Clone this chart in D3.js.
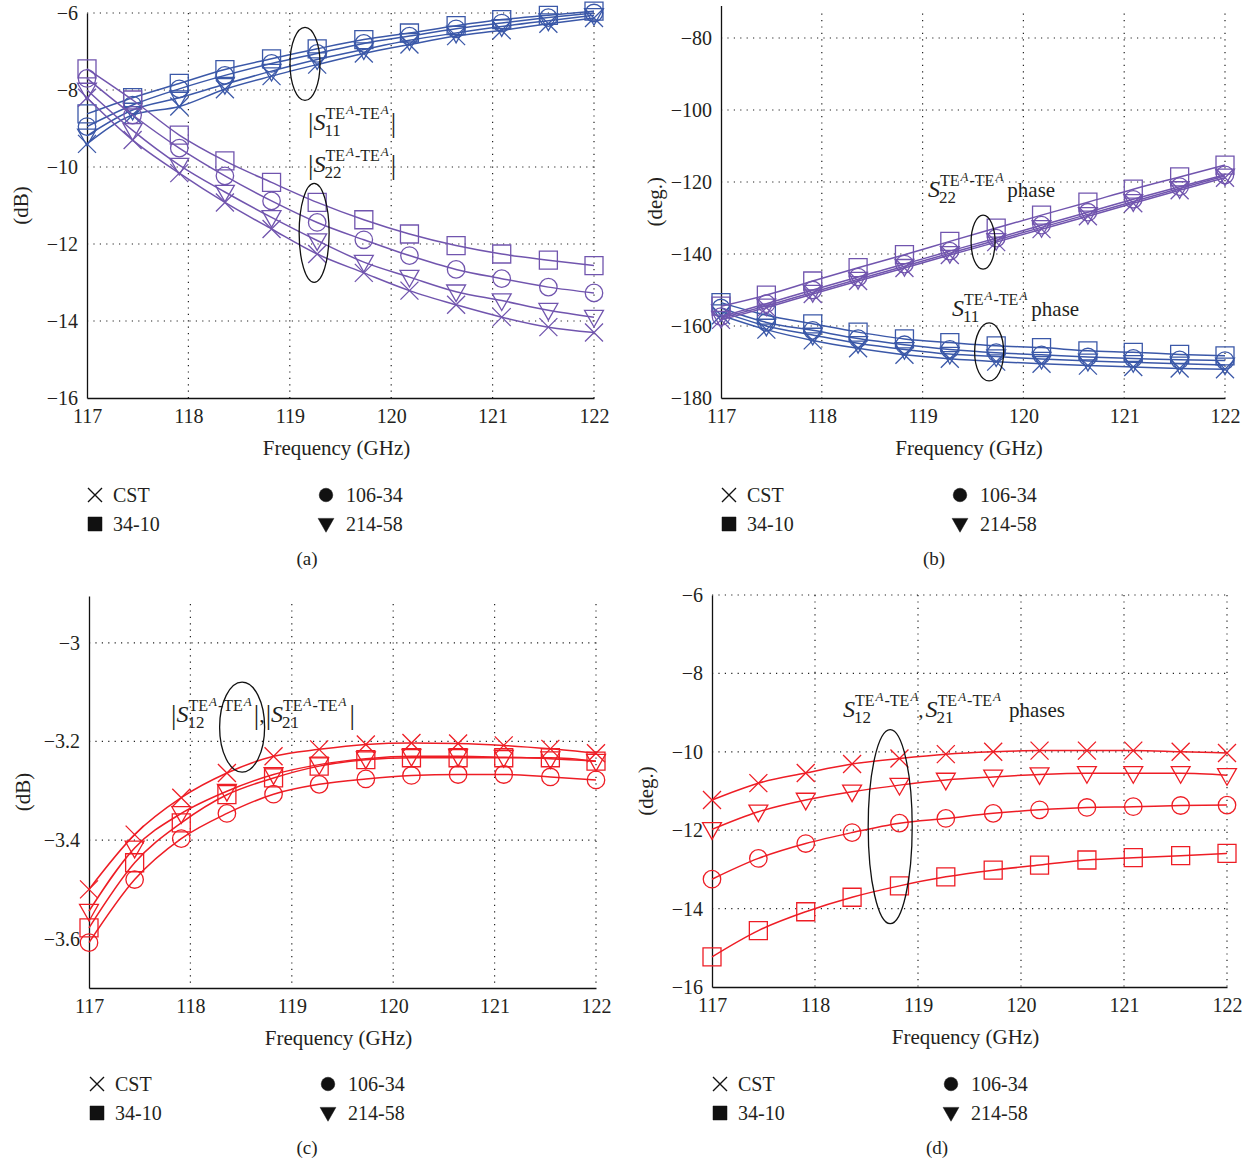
<!DOCTYPE html>
<html>
<head>
<meta charset="utf-8">
<script src="https://cdn.jsdelivr.net/npm/d3@7"></script>
<style>
  body { margin: 0; background: #fff; }
  svg { display: block; font-family: "Liberation Serif", "DejaVu Serif", serif; fill: #231f20; }
</style>
</head>
<body>
<svg id="chart" width="1255" height="1164"></svg>
<script>
/*global d3*/
"use strict";

// frequency points where markers sit (GHz)
var freq = [117, 117.45, 117.91, 118.36, 118.82, 119.27, 119.73, 120.18, 120.64, 121.09, 121.55, 122];
var xTicks = [117, 118, 119, 120, 121, 122];

// (a) |S11| and |S22| in dB
var s11magCST   = [-9.4, -8.65, -8.43, -7.98, -7.64, -7.34, -7.05, -6.82, -6.6, -6.45, -6.28, -6.13];
var s11mag3410  = [-8.62, -8.2, -7.83, -7.47, -7.19, -6.93, -6.69, -6.52, -6.33, -6.17, -6.06, -5.95];
var s11mag10634 = [-8.95, -8.39, -7.97, -7.62, -7.31, -7.05, -6.79, -6.6, -6.41, -6.26, -6.12, -6.0];
var s11mag21458 = [-9.19, -8.52, -8.2, -7.85, -7.51, -7.21, -6.95, -6.71, -6.52, -6.35, -6.2, -6.06];
var s22magCST   = [-8.2, -9.3, -10.16, -10.92, -11.61, -12.26, -12.75, -13.21, -13.58, -13.9, -14.16, -14.3];
var s22mag3410  = [-7.45, -8.26, -9.17, -9.84, -10.4, -10.92, -11.37, -11.74, -12.04, -12.26, -12.42, -12.56];
var s22mag10634 = [-7.7, -8.65, -9.51, -10.23, -10.88, -11.44, -11.89, -12.3, -12.66, -12.9, -13.12, -13.27];
var s22mag21458 = [-8.0, -9.05, -9.95, -10.65, -11.31, -11.91, -12.47, -12.86, -13.24, -13.47, -13.72, -13.9];

// (b) S11 and S22 phases in degrees
var s11phCST   = [-157, -161, -164, -166.2, -168, -169.1, -169.9, -170.5, -171, -171.4, -171.8, -172];
var s11ph3410  = [-153.5, -157, -159.4, -161.7, -163.6, -164.6, -165.5, -166, -166.9, -167.3, -167.9, -168.3];
var s11ph10634 = [-155, -159, -161.2, -163.5, -165.2, -166.5, -167.4, -168, -168.6, -169, -169.4, -169.6];
var s11ph21458 = [-156, -160, -162.5, -164.8, -166.5, -167.8, -168.5, -169.2, -169.7, -170.1, -170.5, -170.8];
var s22phCST   = [-158.3, -154.9, -151.1, -147.5, -143.9, -140.3, -136.7, -133.1, -129.5, -125.9, -122.3, -118.8];
var s22ph3410  = [-154.5, -151.4, -147.5, -143.8, -140.2, -136.5, -132.8, -129.2, -125.6, -122, -118.6, -115.3];
var s22ph10634 = [-157.4, -153.8, -150, -146.4, -142.8, -139.2, -135.6, -132, -128.4, -124.8, -121.3, -118];
var s22ph21458 = [-157.8, -154.4, -150.6, -147, -143.4, -139.8, -136.2, -132.6, -129, -125.4, -121.8, -118.3];

// (c) |S12|, |S21| in dB
var s12magCST   = [-3.5, -3.389, -3.314, -3.264, -3.23, -3.216, -3.206, -3.203, -3.204, -3.208, -3.215, -3.224];
var s12mag3410  = [-3.578, -3.446, -3.365, -3.308, -3.274, -3.25, -3.237, -3.233, -3.233, -3.233, -3.233, -3.24];
var s12mag10634 = [-3.608, -3.48, -3.397, -3.346, -3.307, -3.287, -3.276, -3.269, -3.267, -3.267, -3.272, -3.278];
var s12mag21458 = [-3.544, -3.416, -3.346, -3.301, -3.267, -3.247, -3.235, -3.23, -3.23, -3.232, -3.235, -3.24];

// (d) S12, S21 phases in degrees
var s12phCST   = [-11.23, -10.8, -10.54, -10.31, -10.17, -10.06, -10, -9.97, -9.97, -9.97, -10, -10.03];
var s12ph3410  = [-15.23, -14.56, -14.08, -13.71, -13.42, -13.19, -13.02, -12.89, -12.76, -12.7, -12.65, -12.59];
var s12ph10634 = [-13.25, -12.72, -12.34, -12.06, -11.82, -11.7, -11.57, -11.48, -11.42, -11.4, -11.37, -11.36];
var s12ph21458 = [-11.98, -11.53, -11.23, -11.02, -10.85, -10.72, -10.64, -10.58, -10.55, -10.55, -10.55, -10.6];

var legendNames = ['CST', '106-34', '34-10', '214-58'];
var legendSymbols = ['cross', 'circle', 'square', 'tri'];

var blue = '#3b58a8',
    purple = '#7155ae',
    red = '#ee1d25';

var svg = d3.select('#chart');

/**
 * Path for an open marker centred on 0,0.
 */
function markerPath(sym, s) {
    var h = s / 2, p = d3.path();
    if (sym === 'square') {
        p.rect(-h, -h, s, s);
    } else if (sym === 'circle') {
        p.arc(0, 0, h * 0.97, 0, 2 * Math.PI);
    } else if (sym === 'tri') {
        p.moveTo(-h * 1.05, -h * 0.75);
        p.lineTo(h * 1.05, -h * 0.75);
        p.lineTo(0, h * 1.1);
        p.closePath();
    } else {
        p.moveTo(-h, -h); p.lineTo(h, h);
        p.moveTo(-h, h); p.lineTo(h, -h);
    }
    return p.toString();
}

/**
 * Small text run; returns its width.
 */
function piece(g, x, y, str, size, italic) {
    var t = g.append('text')
        .attr('x', x).attr('y', y)
        .style('font-size', size + 'px')
        .style('font-style', italic ? 'italic' : 'normal')
        .text(str);
    return t.node().getComputedTextLength();
}

/**
 * S with a subscript and the TE^A-TE^A superscript; returns end x.
 */
function sSymbol(g, x, y, sub) {
    x += piece(g, x, y, 'S', 24, true) - 1;
    var ws = piece(g, x, y + 6, sub, 17, false),
        sx = x + 1,
        sy = y - 11;
    sx += piece(g, sx, sy, 'TE', 16, false) + 1;
    sx += piece(g, sx, sy - 5, 'A', 13, true) + 1;
    sx += piece(g, sx, sy, '-TE', 16, false) + 1;
    sx += piece(g, sx, sy - 5, 'A', 13, true);
    return Math.max(x + ws, sx);
}

function bar(g, x, y) {
    return x + piece(g, x, y + 2, '|', 27, false);
}

var panels = [
    {
        left: 87, right: 594, top: 13, bottom: 398,
        yDomain: [-16, -6], yTicks: [-16, -14, -12, -10, -8, -6],
        yLabel: '(dB)', legX: 95, legY: 495, capX: 307, capY: 559, cap: '(a)',
        groups: [
            { color: blue, data: [s11magCST, s11mag10634, s11mag3410, s11mag21458] },
            { color: purple, data: [s22magCST, s22mag10634, s22mag3410, s22mag21458] }
        ],
        ellipses: [[119.15, -7.32, 15, 36.5], [119.24, -11.71, 15, 49.5]],
        labels: function (g) {
            var x = bar(g, 308, 130);
            x = sSymbol(g, x, 130, '11');
            bar(g, x + 2, 130);
            x = bar(g, 308, 172);
            x = sSymbol(g, x, 172, '22');
            bar(g, x + 2, 172);
        }
    },
    {
        left: 721, right: 1225, top: 5.6, bottom: 398,
        yDomain: [-180, -71], yTicks: [-180, -160, -140, -120, -100, -80],
        yLabel: '(deg.)', legX: 729, legY: 495, capX: 934, capY: 559, cap: '(b)',
        groups: [
            { color: blue, data: [s11phCST, s11ph10634, s11ph3410, s11ph21458] },
            { color: purple, data: [s22phCST, s22ph10634, s22ph3410, s22ph21458] }
        ],
        ellipses: [[119.6, -136.7, 12, 27], [119.66, -167.2, 14.5, 29]],
        labels: function (g) {
            var x = sSymbol(g, 928, 197, '22');
            piece(g, x + 4, 197, 'phase', 21, false);
            x = sSymbol(g, 952, 316, '11');
            piece(g, x + 4, 316, 'phase', 21, false);
        }
    },
    {
        left: 89, right: 596, top: 596, bottom: 988,
        yDomain: [-3.7, -2.905], yTicks: [-3.6, -3.4, -3.2, -3],
        yLabel: '(dB)', legX: 97, legY: 1084, capX: 307, capY: 1148, cap: '(c)',
        groups: [
            { color: red, data: [s12magCST, s12mag10634, s12mag3410, s12mag21458] }
        ],
        ellipses: [[118.51, -3.171, 22.5, 45]],
        labels: function (g) {
            var x = bar(g, 171, 722);
            x = sSymbol(g, x, 722, '12');
            x = bar(g, x + 2, 722);
            x += piece(g, x, 722, ', ', 22, false);
            x = bar(g, x + 1, 722);
            x = sSymbol(g, x, 722, '21');
            bar(g, x + 3, 722);
        }
    },
    {
        left: 712, right: 1227, top: 595, bottom: 987,
        yDomain: [-16, -6], yTicks: [-16, -14, -12, -10, -8, -6],
        yLabel: '(deg.)', legX: 720, legY: 1084, capX: 937, capY: 1148, cap: '(d)',
        groups: [
            { color: red, data: [s12phCST, s12ph10634, s12ph3410, s12ph21458] }
        ],
        ellipses: [[118.73, -11.91, 22, 97]],
        labels: function (g) {
            var x = sSymbol(g, 843, 717, '12');
            x += piece(g, x, 717, ',', 21, false);
            x = sSymbol(g, x + 2, 717, '21');
            piece(g, x + 8, 717, 'phases', 21, false);
        }
    }
];

var fmt = d3.format('~g');

panels.forEach(function (p) {
    var g = svg.append('g'),
        x = d3.scaleLinear().domain([117, 122]).range([p.left, p.right]),
        y = d3.scaleLinear().domain(p.yDomain).range([p.bottom, p.top]),
        yTop = y(p.yTicks[p.yTicks.length - 1]),
        line = d3.line()
            .x(function (d, i) { return x(freq[i]); })
            .y(function (d) { return y(d); })
            .curve(d3.curveMonotoneX);

    // dotted grid
    var grid = g.append('g')
        .attr('fill', 'none')
        .attr('stroke', '#222')
        .attr('stroke-width', 1.2)
        .attr('stroke-dasharray', '1.2,5.2');
    grid.selectAll('.v').data(xTicks.slice(1)).enter().append('line')
        .attr('x1', x).attr('x2', x)
        .attr('y1', Math.min(yTop, p.top + 8)).attr('y2', p.bottom);
    grid.selectAll('.h').data(p.yTicks.slice(1)).enter().append('line')
        .attr('x1', p.left).attr('x2', p.right)
        .attr('y1', y).attr('y2', y);

    // axes
    var xAxis = g.append('g')
        .attr('transform', 'translate(0,' + p.bottom + ')')
        .call(d3.axisBottom(x).tickValues(xTicks).tickSize(0).tickPadding(11).tickFormat(fmt));
    var yAxis = g.append('g')
        .attr('transform', 'translate(' + p.left + ',0)')
        .call(d3.axisLeft(y).tickValues(p.yTicks).tickSize(0).tickPadding(9).tickFormat(fmt));
    [xAxis, yAxis].forEach(function (a) {
        a.select('.domain').attr('stroke', '#111').attr('stroke-width', 1.3);
        a.selectAll('text')
            .attr('fill', '#231f20')
            .style('font-family', '"Liberation Serif", serif')
            .style('font-size', '20px');
    });

    g.append('text')
        .attr('x', (p.left + p.right) / 2 - 4)
        .attr('y', p.bottom + 57)
        .attr('text-anchor', 'middle')
        .style('font-size', '21px')
        .text('Frequency (GHz)');
    g.append('text')
        .attr('transform', 'translate(' + (p.left - 59) + ',' + ((p.top + p.bottom) / 2) + ') rotate(-90)')
        .attr('text-anchor', 'middle')
        .style('font-size', '21px')
        .text(p.yLabel);

    // curves and markers
    p.groups.forEach(function (grp) {
        grp.data.forEach(function (vals, k) {
            g.append('path')
                .attr('d', line(vals))
                .attr('fill', 'none')
                .attr('stroke', grp.color)
                .attr('stroke-width', 1.5);
            g.selectAll(null).data(vals).enter().append('path')
                .attr('transform', function (d, i) { return 'translate(' + x(freq[i]) + ',' + y(d) + ')'; })
                .attr('d', markerPath(legendSymbols[k], 18))
                .attr('fill', 'none')
                .attr('stroke', grp.color)
                .attr('stroke-width', 1.3);
        });
    });

    // ellipses round the curve bundles
    g.selectAll('ellipse').data(p.ellipses).enter().append('ellipse')
        .attr('cx', function (d) { return x(d[0]); })
        .attr('cy', function (d) { return y(d[1]); })
        .attr('rx', function (d) { return d[2]; })
        .attr('ry', function (d) { return d[3]; })
        .attr('fill', 'none')
        .attr('stroke', '#111')
        .attr('stroke-width', 1.3);

    p.labels(g.append('g').attr('fill', '#231f20'));

    // legend
    var leg = g.append('g');
    legendNames.forEach(function (name, k) {
        var lx = p.legX + (k % 2) * 231,
            ly = p.legY + Math.floor(k / 2) * 29,
            sym = legendSymbols[k];
        leg.append('path')
            .attr('transform', 'translate(' + lx + ',' + ly + ')')
            .attr('d', markerPath(sym, sym === 'tri' ? 15 : 14))
            .attr('fill', sym === 'cross' ? 'none' : '#111')
            .attr('stroke', '#111')
            .attr('stroke-width', sym === 'cross' ? 1.4 : 0.5);
        leg.append('text')
            .attr('x', lx + (k % 2 ? 20 : 18))
            .attr('y', ly + 7)
            .style('font-size', '20px')
            .text(name);
    });

    g.append('text')
        .attr('x', p.capX).attr('y', p.capY + 6)
        .attr('text-anchor', 'middle')
        .style('font-size', '19px')
        .text(p.cap);
});
</script>
</body>
</html>
